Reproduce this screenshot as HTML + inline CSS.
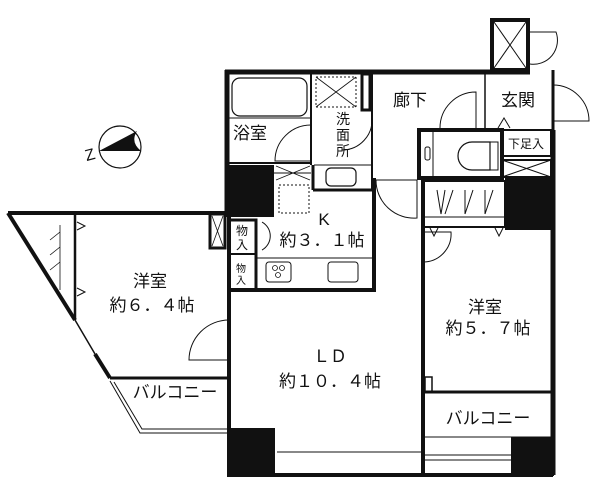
<!DOCTYPE html>
<html><head><meta charset="utf-8"><style>
html,body{margin:0;padding:0;background:#fff;width:600px;height:488px;overflow:hidden}
svg{display:block}
text{font-family:"Liberation Sans","Noto Sans CJK JP",sans-serif;fill:#111}
</style></head><body>
<svg width="600" height="488" viewBox="0 0 600 488" xmlns="http://www.w3.org/2000/svg">
<g fill="none" stroke="#111">
<rect x="492" y="20" width="36" height="50" stroke-width="4"/>
<path d="M494 22L526 68M526 22L494 68" stroke-width="1"/>
<path d="M530 32h26a24 24 0 0 1 -26 32" stroke-width="1"/>
<path d="M553 85a36 36 0 0 1 36 36h-36" stroke-width="1"/>
<path d="M225 72H530" stroke-width="5"/>
<path d="M227 70V217" stroke-width="5"/>
<path d="M553 70V130" stroke-width="3"/>
<path d="M553 130V475" stroke-width="5"/>
<rect x="232" y="78" width="75" height="38" rx="8" stroke-width="1.2"/>
<path d="M229 118H311" stroke-width="1"/>
<path d="M311 72V165" stroke-width="2"/>
<path d="M229 163H311" stroke-width="2"/>
<path d="M311 125a36 36 0 0 0 -36 36h36" stroke-width="1"/>
<rect x="316" y="77" width="40" height="30" stroke-dasharray="2 2" stroke-width="1"/>
<path d="M316 77L356 107M356 77L316 107" stroke-width="0.8"/>
<rect x="362" y="74" width="8" height="36" stroke-width="3"/>
<path d="M372 72V190" stroke-width="2"/>
<path d="M314 165H372" stroke-width="1"/>
<path d="M372 118a30 30 0 0 1 -30 32" stroke-width="1"/>
<rect x="326" y="168" width="30" height="18" rx="5" stroke-width="1.2"/>
<path d="M313 190H372" stroke-width="3"/>
<path d="M313 165V190" stroke-width="3"/>
<path d="M485 72V128" stroke-width="1.5"/>
<path d="M476 128V92a36 36 0 0 0 -36 36" stroke-width="1"/>
<path d="M510 128l-6 -10l-6 10" stroke-width="1"/>
<rect x="419" y="130" width="83" height="48" stroke-width="4"/>
<path d="M433 132V176" stroke-width="1"/>
<rect x="425" y="147" width="5" height="13" rx="2" stroke-width="1"/>
<path d="M490 142h-18a13 13 0 0 0 0 28h18z" stroke-width="1.2"/>
<rect x="490" y="142" width="8" height="28" stroke-width="1"/>
<rect x="502" y="130" width="49" height="26" stroke-width="2"/>
<rect x="502" y="160" width="49" height="17" stroke-width="2"/>
<path d="M502 160L551 177M551 160L502 177" stroke-width="1"/>
<rect x="422" y="181" width="83" height="46" stroke-width="2"/>
<path d="M422 217H505" stroke-width="1"/>
<path d="M437 190l4 24l4 -24M453 190l-8 24M465 190v24M473 190l-8 24M485 190v24M493 190l-8 24" stroke-width="1"/>
<path d="M430 228l4 8l4 -8M495 228l4 8l4 -8" stroke-width="1"/>
<path d="M376 180H417V218A38 38 0 0 1 376 180" stroke-width="1"/>
<path d="M423 232h28a28 28 0 0 1 -28 30" stroke-width="1"/>
<path d="M273 173H311" stroke-width="1"/>
<path d="M276 166L310 180M310 166L276 180" stroke-width="0.8"/>
<rect x="279" y="185" width="30" height="28" stroke-dasharray="2 2" stroke-width="1"/>
<path d="M374 178V290H230" stroke-width="4"/>
<path d="M257 258H374" stroke-width="1"/>
<rect x="266" y="262" width="25" height="20" rx="3" stroke-width="1"/>
<rect x="328" y="262" width="30" height="20" rx="3" stroke-width="1"/>
<circle cx="275" cy="268" r="2.5" stroke-width="0.8"/><circle cx="282" cy="268" r="2.5" stroke-width="0.8"/><circle cx="278" cy="275" r="2.5" stroke-width="0.8"/>
<path d="M230 220H256V290" stroke-width="3"/>
<path d="M230 254H256" stroke-width="2"/>
<path d="M262 222a16 16 0 0 1 0 28" stroke-width="1"/>
<path d="M8 213H230" stroke-width="4"/>
<path d="M8 213L75 320" stroke-width="4"/>
<path d="M75 320L95 354" stroke-width="1.5"/>
<path d="M95 354L110 378" stroke-width="4"/>
<path d="M75 213V320" stroke-width="2.5"/>
<path d="M60 225V290M50 240l10 -8M50 255l10 -8M50 270l10 -8" stroke-width="0.8"/>
<path d="M77 222l8 4l-8 4M77 288l8 4l-8 4" stroke-width="1"/>
<rect x="210" y="214" width="15" height="34" stroke-width="3"/>
<path d="M212 216L223 246M223 216L212 246" stroke-width="0.8"/>
<path d="M229 217V475" stroke-width="4"/>
<path d="M229 320a40 40 0 0 0 -40 40h40" stroke-width="1"/>
<path d="M110 378H229" stroke-width="3"/>
<path d="M110 381L140 433H229" stroke-width="1"/>
<path d="M114 382L142 429H229" stroke-width="1"/>
<path d="M423 178V475" stroke-width="4"/>
<path d="M425 392H553" stroke-width="3"/>
<rect x="425" y="377" width="7" height="15" stroke-width="1.5"/>
<path d="M423 437H553" stroke-width="1"/>
<path d="M423 455H511M423 460H511" stroke-width="1"/>
<path d="M277 452H423" stroke-width="1"/>
<path d="M227 475H553" stroke-width="4"/>
<circle cx="120" cy="147" r="21" stroke-width="1.2"/>
</g>
<g fill="#111">
<rect x="226" y="165" width="48" height="52"/>
<rect x="505" y="178" width="48" height="52"/>
<rect x="227" y="428" width="48" height="48"/>
<rect x="511" y="437" width="43" height="39"/>
<path d="M99 151L137 131Q130 142 141 151Z"/>
</g>
<g font-size="17" text-anchor="middle">
<text x="250" y="139">浴室</text>
<text x="343" y="124" font-size="14">洗</text>
<text x="343" y="140" font-size="14">面</text>
<text x="343" y="156" font-size="14">所</text>
<text x="410" y="106">廊下</text>
<text x="518" y="106">玄関</text>
<text x="526" y="148" font-size="12">下足入</text>
<text x="324" y="225">K</text>
<text x="322" y="246">約３．１帖</text>
<text x="242" y="235" font-size="12">物</text>
<text x="242" y="249" font-size="12">入</text>
<text x="241" y="272" font-size="10">物</text>
<text x="241" y="284" font-size="10">入</text>
<text x="150" y="287">洋室</text>
<text x="152" y="311">約６．４帖</text>
<text x="330" y="362">ＬＤ</text>
<text x="330" y="387">約１０．４帖</text>
<text x="485" y="313">洋室</text>
<text x="488" y="334">約５．７帖</text>
<text x="175" y="398">バルコニー</text>
<text x="488" y="424">バルコニー</text>
<text x="90" y="160" font-size="16" transform="rotate(-15 90 155)">Z</text>
</g>
</svg>
</body></html>
